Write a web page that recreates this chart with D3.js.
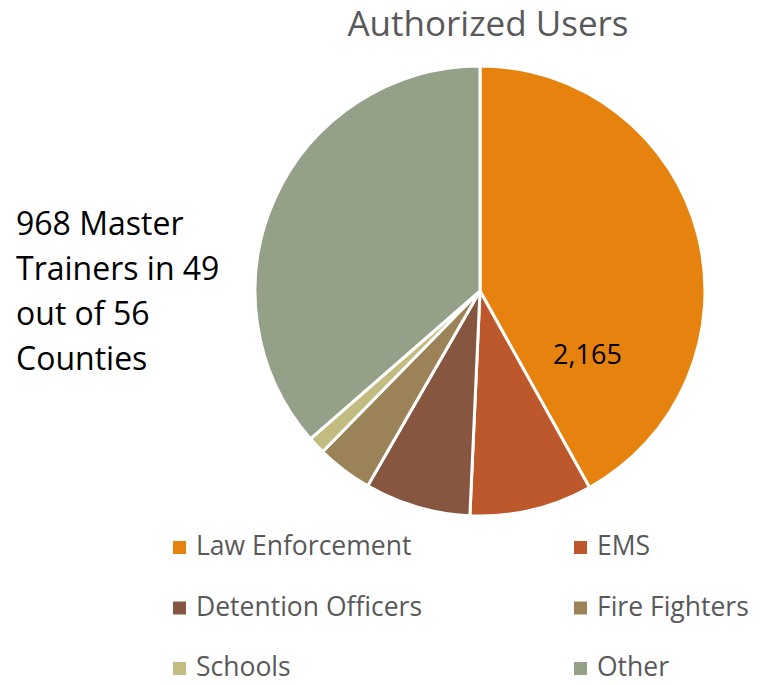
<!DOCTYPE html>
<html>
<head>
<meta charset="utf-8">
<script src="https://cdn.jsdelivr.net/npm/d3@7"></script>
<style>
  body { margin: 0; background: #fff; }
  svg { display: block; font-family: "Open Sans", Lato, sans-serif; }
</style>
</head>
<body>
<svg id="chart"></svg>
<script>
var categories = ["Law Enforcement", "EMS", "Detention Officers", "Fire Fighters", "Schools", "Other"];
var users = [2165, 455, 393, 207, 65, 1881];
var colors = ["#E6830F", "#BD582C", "#865640", "#9B8357", "#C2BC80", "#94A088"];
var noteLines = ["968 Master", "Trainers in 49", "out of 56", "Counties"];
var chartTitle = "Authorized Users";

var width = 763, height = 685;
var cx = 480, cy = 291, radius = 225;

var svg = d3.select('#chart')
    .attr("width", width)
    .attr("height", height);

// title
svg.append('text')
    .attr('x', 488)
    .attr('y', 36)
    .attr('text-anchor', 'middle')
    .attr('fill', '#595959')
    .style('font-size', '35px')
    .text(chartTitle);

var data = categories.map(function (c, i) {
    return {name: c, value: users[i], color: colors[i]};
});

var pie = d3.pie()
    .sort(null)
    .value(function (d) { return d.value; });

var arc = d3.arc()
    .innerRadius(0)
    .outerRadius(radius);

var pieArea = svg.append('g')
    .attr("transform", `translate(${cx},${cy})`);

var arcs = pie(data);

pieArea.selectAll('path')
    .data(arcs)
    .enter()
    .append('path')
    .attr('d', arc)
    .attr('fill', function (d) { return d.data.color; })
    .attr('stroke', 'white')
    .attr('stroke-width', 3)
    .attr('stroke-linejoin', 'round');

// only the first slice carries a label (best-fit position)
var first = arcs[0];
var labelAngle = first.startAngle + (first.endAngle - first.startAngle) * 0.8;
var labelPos = d3.pointRadial(labelAngle, 125);
pieArea.append('text')
    .attr('x', labelPos[0])
    .attr('y', labelPos[1])
    .attr('dy', '0.35em')
    .attr('text-anchor', 'middle')
    .attr('fill', '#000')
    .style('font-size', '27px')
    .text(d3.format(",")(first.data.value));

// side note
svg.append('g').selectAll('text')
    .data(noteLines)
    .enter()
    .append('text')
    .attr('x', 16)
    .attr('y', function (d, i) { return 235 + i * 45; })
    .attr('fill', '#000')
    .style('font-size', '32px')
    .text(function (d) { return d; });

// legend, two columns
var legend = svg.append('g').selectAll('g')
    .data(data)
    .enter()
    .append('g')
    .attr('transform', function (d, i) {
        var col = i % 2, row = Math.floor(i / 2);
        return `translate(${col === 0 ? 173 : 574},${555 + row * 60.5})`;
    });

legend.append('rect')
    .attr('x', 0)
    .attr('y', -14)
    .attr('width', 13)
    .attr('height', 13)
    .attr('fill', function (d) { return d.color; });

legend.append('text')
    .attr('x', 23)
    .attr('y', 0)
    .attr('fill', '#595959')
    .style('font-size', '26.5px')
    .text(function (d) { return d.name; });
</script>
</body>
</html>
